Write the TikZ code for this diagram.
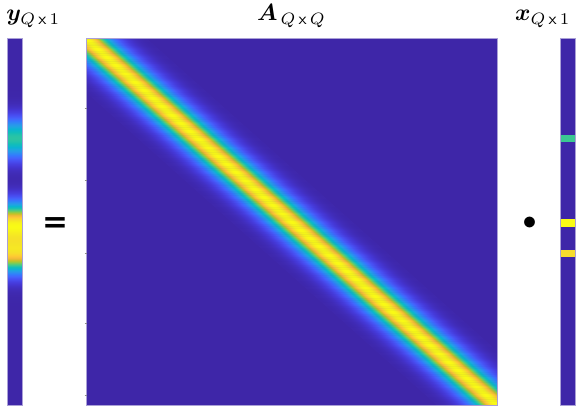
\documentclass[tikz,border=0pt]{standalone}
\usepackage{bm}
\usepackage{fontspec}
\newfontfamily\symfnt{DejaVu Sans}
\definecolor{pc0}{RGB}{62,38,168}
\definecolor{pc1}{RGB}{69,55,213}
\definecolor{pc2}{RGB}{72,76,240}
\definecolor{pc3}{RGB}{69,99,253}
\definecolor{pc4}{RGB}{52,122,253}
\definecolor{pc5}{RGB}{43,145,239}
\definecolor{pc6}{RGB}{33,163,227}
\definecolor{pc7}{RGB}{11,179,210}
\definecolor{pc8}{RGB}{18,190,185}
\definecolor{pc9}{RGB}{52,198,156}
\definecolor{pc10}{RGB}{92,204,114}
\definecolor{pc11}{RGB}{147,202,68}
\definecolor{pc12}{RGB}{200,193,37}
\definecolor{pc13}{RGB}{241,186,55}
\definecolor{pc14}{RGB}{254,202,51}
\definecolor{pc15}{RGB}{245,227,39}
\definecolor{pc16}{RGB}{249,251,21}
\definecolor{edgec}{RGB}{170,160,215}
\definecolor{xgreen}{RGB}{59,199,146}
\definecolor{xyellowA}{RGB}{249,251,21}
\definecolor{xyellowB}{RGB}{246,220,45}
\newcommand\setparula[1]{%
  \pgfmathsetmacro\ppv{min(max(#1,0),0.99999)*16}%
  \pgfmathtruncatemacro\pidx{floor(\ppv)}%
  \pgfmathtruncatemacro\pjdx{\pidx+1}%
  \pgfmathsetmacro\pfr{(\ppv-\pidx)*100}%
  \colorlet{cur}{pc\pjdx!\pfr!pc\pidx}%
}
\tikzset{
  lab/.style={inner sep=0pt, scale=2.35},
  barborder/.style={draw=edgec, line width=0.6pt},
  tick/.style={draw=black!45, line width=0.5pt},
  declare function={
    gv(\d)=exp(-min(0.5*(\d/13.6)^2,9));
    gh(\d)=0.5*exp(-min(0.5*(\d/12.5)^2,9))+0.5*exp(-min(0.5*(\d/20)^2,9));
  }
}
\begin{document}
\begin{tikzpicture}[x=1pt,y=-1pt]
\useasboundingbox (0,0) rectangle (576,413);
% ---- y vector (left bar)
\foreach \t in {38,...,404} {
  \pgfmathsetmacro\vv{(0.6*gv(\t+0.5-138.5)+gv(\t+0.5-223)+0.93*gv(\t+0.5-253.5))/1.1}
  \setparula{\vv}
  \fill[cur] (7,\t) rectangle (22,\t+1.4);
}
\fill[pc0] (7,38.5) rectangle (22,40);
\draw[barborder] (7,38.5) rectangle (22,405);
% ---- matrix A
\begin{scope}
  \clip (86,38.5) rectangle (497,405);
  \fill[pc0] (86,38.5) rectangle (497,405);
  \foreach \d in {-60,...,60} {
    \pgfmathsetmacro\vv{gh(\d)}
    \setparula{\vv}
    \fill[cur] (86+\d-0.5,38.5) -- (497+\d-0.5,405) -- (497+\d+0.9,405) -- (86+\d+0.9,38.5) -- cycle;
  }
\end{scope}
\draw[barborder] (86,38.5) rectangle (497,405);
\foreach \yy in {108,180,253,323,395} \draw[tick] (84.5,\yy) -- (87,\yy);
% ---- x vector (right bar)
\fill[pc0] (560,38.5) rectangle (575.5,405);
\fill[xgreen] (560,135) rectangle (575.5,142);
\fill[xyellowA] (560,219) rectangle (575.5,227);
\fill[xyellowB] (560,250) rectangle (575.5,257);
\draw[barborder] (560,38.5) rectangle (575.5,405);
% ---- labels
\node[lab, anchor=base west] (ylab) at (6,20.5) {$\bm{y}_{Q\,\mathsf{x}\,1}$};
\node[lab, anchor=base] (Alab) at (291.5,20.5) {$\bm{A}_{\,Q\,\mathsf{x}\,Q}$};
\node[lab, anchor=base east] (xlab) at (571,20.5) {$\bm{x}_{Q\,\mathsf{x}\,1}$};
\node[inner sep=0pt, font=\fontsize{31}{31}\selectfont\symfnt\bfseries] (eq) at (55,225.5) {=};
\node[inner sep=0pt, scale=2.8] (dot) at (529.5,223.5) {$\bullet$};
\end{tikzpicture}
\end{document}
